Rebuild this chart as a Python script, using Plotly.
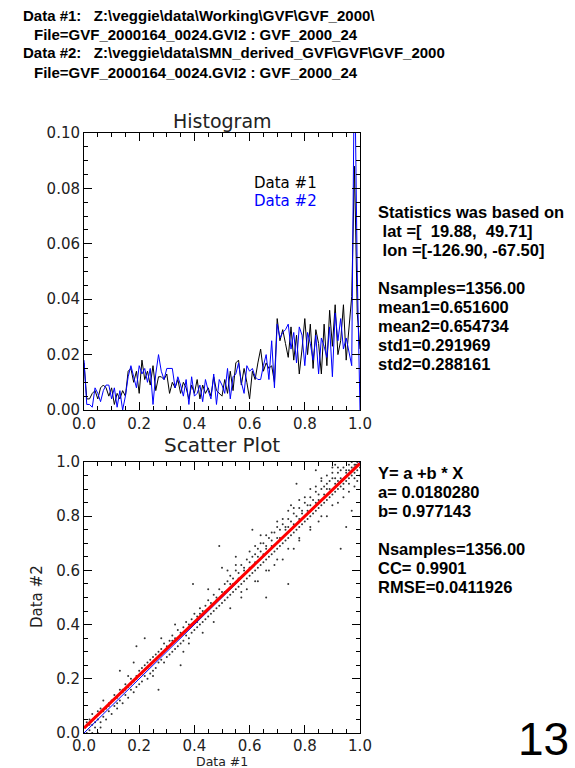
import plotly.graph_objects as go

W, H = 575, 768

# ---------------- data ----------------
bins = [round(i * 0.01, 2) for i in range(101)]

hist1 = [0.017, 0.004, 0.004, 0.006, 0.007, 0.004, 0.008, 0.009, 0.008, 0.005,
         0.008, 0.002, 0.006, 0.004, 0.007, 0.005, 0.014, 0.015, 0.010, 0.014,
         0.006, 0.018, 0.011, 0.014, 0.009, 0.016, 0.007, 0.012, 0.012, 0.011,
         0.013, 0.006, 0.010, 0.008, 0.011, 0.006, 0.010, 0.008, 0.004, 0.009,
         0.006, 0.011, 0.004, 0.009, 0.006, 0.008, 0.005, 0.012, 0.007, 0.006,
         0.005, 0.011, 0.006, 0.014, 0.007, 0.017, 0.018, 0.009, 0.015, 0.010,
         0.004, 0.014, 0.011, 0.017, 0.022, 0.014, 0.017, 0.015, 0.016, 0.010,
         0.033, 0.025, 0.029, 0.024, 0.019, 0.030, 0.018, 0.027, 0.013, 0.022,
         0.033, 0.020, 0.031, 0.015, 0.029, 0.024, 0.013, 0.031, 0.016, 0.036,
         0.023, 0.038, 0.020, 0.025, 0.038, 0.018, 0.030, 0.041, 0.088, 0.035,
         0.022]

hist2 = [0.018, 0.002, 0.002, 0.001, 0.008, 0.006, 0.003, 0.007, 0.009, 0.009,
         0.004, 0.008, 0.001, 0.007, 0.000, 0.005, 0.012, 0.016, 0.012, 0.008,
         0.016, 0.013, 0.015, 0.010, 0.015, 0.002, 0.013, 0.020, 0.014, 0.011,
         0.015, 0.015, 0.015, 0.008, 0.012, 0.009, 0.005, 0.011, 0.002, 0.012,
         0.005, 0.006, 0.009, 0.003, 0.011, 0.007, 0.004, 0.013, 0.002, 0.011,
         0.009, 0.006, 0.015, 0.004, 0.012, 0.013, 0.017, 0.010, 0.006, 0.016,
         0.014, 0.015, 0.012, 0.011, 0.011, 0.016, 0.020, 0.011, 0.025, 0.008,
         0.031, 0.026, 0.028, 0.029, 0.031, 0.022, 0.028, 0.017, 0.030, 0.027,
         0.016, 0.028, 0.024, 0.018, 0.027, 0.013, 0.026, 0.023, 0.019, 0.030,
         0.012, 0.035, 0.025, 0.033, 0.022, 0.026, 0.021, 0.016, 0.130, 0.050,
         0.000]

scatter_x = [
    0.00, 0.01, 0.01, 0.02, 0.02, 0.03, 0.03, 0.04, 0.04, 0.05, 0.05, 0.05, 0.06, 0.06, 0.07, 0.07, 0.08, 0.08, 0.09, 0.09, 0.10, 0.10, 0.06, 0.03,
    0.11, 0.11, 0.12, 0.12, 0.13, 0.13, 0.13, 0.14, 0.14, 0.15, 0.15, 0.16, 0.16, 0.17, 0.17, 0.18, 0.18, 0.19, 0.19, 0.19, 0.20, 0.20, 0.16, 0.18,
    0.21, 0.21, 0.22, 0.22, 0.22, 0.23, 0.23, 0.24, 0.24, 0.25, 0.25, 0.26, 0.26, 0.27, 0.27, 0.27, 0.28, 0.28, 0.29, 0.29, 0.30, 0.30, 0.25, 0.28,
    0.31, 0.31, 0.32, 0.32, 0.33, 0.33, 0.34, 0.34, 0.35, 0.35, 0.35, 0.36, 0.36, 0.37, 0.37, 0.38, 0.38, 0.39, 0.39, 0.40, 0.40, 0.395, 0.36, 0.38, 0.33,
    0.41, 0.41, 0.42, 0.42, 0.43, 0.43, 0.44, 0.44, 0.45, 0.45, 0.46, 0.46, 0.47, 0.47, 0.48, 0.48, 0.49, 0.49, 0.49, 0.50, 0.50, 0.50, 0.43, 0.47, 0.45,
    0.51, 0.51, 0.52, 0.52, 0.53, 0.53, 0.54, 0.54, 0.55, 0.55, 0.56, 0.56, 0.57, 0.57, 0.58, 0.58, 0.59, 0.59, 0.60, 0.60, 0.61, 0.53, 0.57, 0.55, 0.59, 0.52,
    0.61, 0.61, 0.62, 0.62, 0.63, 0.63, 0.64, 0.64, 0.65, 0.65, 0.66, 0.66, 0.66, 0.67, 0.67, 0.68, 0.68, 0.69, 0.69, 0.70, 0.70, 0.63, 0.67, 0.64, 0.69,
    0.71, 0.71, 0.72, 0.72, 0.73, 0.73, 0.74, 0.74, 0.74, 0.75, 0.75, 0.76, 0.76, 0.77, 0.77, 0.77, 0.78, 0.78, 0.79, 0.79, 0.80, 0.80, 0.72, 0.76, 0.78, 0.75,
    0.81, 0.81, 0.82, 0.82, 0.83, 0.83, 0.84, 0.84, 0.84, 0.85, 0.85, 0.86, 0.86, 0.87, 0.87, 0.88, 0.88, 0.89, 0.89, 0.90, 0.90, 0.90, 0.82, 0.85, 0.88, 0.86,
    0.91, 0.91, 0.92, 0.92, 0.93, 0.93, 0.93, 0.94, 0.94, 0.95, 0.95, 0.95, 0.96, 0.96, 0.97, 0.97, 0.97, 0.98, 0.98, 0.99, 0.99, 1.00, 1.00, 0.92, 0.94, 0.96, 0.98, 0.99, 1.00, 0.91,
]
scatter_y = [
    0.02, 0.00, 0.04, 0.01, 0.05, 0.03, 0.07, 0.02, 0.06, 0.00, 0.05, 0.08, 0.04, 0.09, 0.06, 0.12, 0.05, 0.09, 0.08, 0.11, 0.07, 0.12, 0.02, 0.00,
    0.10, 0.14, 0.09, 0.13, 0.12, 0.23, 0.16, 0.11, 0.15, 0.14, 0.18, 0.13, 0.17, 0.16, 0.20, 0.15, 0.19, 0.17, 0.21, 0.32, 0.18, 0.23, 0.21, 0.26,
    0.19, 0.24, 0.21, 0.25, 0.35, 0.20, 0.24, 0.22, 0.27, 0.23, 0.28, 0.24, 0.29, 0.16, 0.26, 0.30, 0.27, 0.31, 0.26, 0.33, 0.28, 0.32, 0.21, 0.35,
    0.29, 0.34, 0.30, 0.36, 0.31, 0.35, 0.32, 0.38, 0.33, 0.25, 0.37, 0.34, 0.39, 0.36, 0.41, 0.35, 0.40, 0.37, 0.42, 0.38, 0.44, 0.55, 0.30, 0.33, 0.40,
    0.39, 0.43, 0.40, 0.46, 0.41, 0.45, 0.42, 0.47, 0.43, 0.49, 0.44, 0.48, 0.45, 0.51, 0.46, 0.50, 0.47, 0.69, 0.53, 0.48, 0.61, 0.52, 0.37, 0.41, 0.53,
    0.49, 0.55, 0.50, 0.56, 0.51, 0.58, 0.52, 0.57, 0.53, 0.60, 0.54, 0.59, 0.55, 0.62, 0.56, 0.61, 0.57, 0.64, 0.58, 0.63, 0.75, 0.46, 0.50, 0.65, 0.53, 0.60,
    0.59, 0.65, 0.60, 0.66, 0.61, 0.68, 0.62, 0.67, 0.63, 0.70, 0.50, 0.64, 0.69, 0.65, 0.72, 0.66, 0.71, 0.67, 0.74, 0.68, 0.76, 0.56, 0.60, 0.73, 0.62,
    0.69, 0.75, 0.70, 0.77, 0.71, 0.76, 0.55, 0.72, 0.79, 0.73, 0.78, 0.74, 0.81, 0.75, 0.92, 0.80, 0.76, 0.83, 0.77, 0.82, 0.78, 0.85, 0.64, 0.68, 0.71, 0.84,
    0.79, 0.84, 0.80, 0.87, 0.81, 0.86, 0.82, 0.97, 0.89, 0.83, 0.88, 0.84, 0.90, 0.85, 0.91, 0.86, 0.92, 0.87, 0.93, 0.88, 0.98, 0.94, 0.75, 0.78, 0.80, 0.94,
    0.89, 0.94, 0.90, 0.96, 0.68, 0.91, 0.97, 0.92, 0.98, 0.76, 0.93, 0.97, 0.94, 0.99, 0.82, 0.95, 1.00, 0.96, 0.99, 0.97, 1.00, 0.98, 1.00, 0.85, 0.87, 0.89, 0.91, 0.93, 0.95, 0.99,
]
extra_x = [
    0.02, 0.04, 0.07, 0.09, 0.12, 0.14, 0.15, 0.17, 0.19, 0.21, 0.23, 0.24, 0.26, 0.28, 0.29, 0.31, 0.32, 0.34, 0.35, 0.37,
    0.39, 0.41, 0.42, 0.44, 0.46, 0.48, 0.51, 0.53, 0.54, 0.56, 0.58, 0.60, 0.62, 0.63, 0.65, 0.66, 0.68, 0.70, 0.71, 0.73,
    0.74, 0.76, 0.78, 0.79, 0.81, 0.82, 0.84, 0.85, 0.87, 0.88, 0.89, 0.91, 0.92, 0.93, 0.95, 0.96, 0.97, 0.98, 0.99, 0.985,
    0.55, 0.57, 0.60, 0.62, 0.64, 0.66, 0.68, 0.70, 0.72, 0.74, 0.76, 0.78, 0.80, 0.82, 0.84, 0.86, 0.88, 0.90, 0.92, 0.94,
    0.96, 0.98, 0.62, 0.66, 0.70, 0.74, 0.78, 0.82, 0.86, 0.90,
]
extra_y = [
    0.03, 0.04, 0.08, 0.10, 0.11, 0.16, 0.16, 0.18, 0.20, 0.22, 0.26, 0.25, 0.27, 0.29, 0.30, 0.32, 0.34, 0.35, 0.36, 0.38,
    0.40, 0.41, 0.44, 0.45, 0.47, 0.49, 0.52, 0.55, 0.55, 0.57, 0.60, 0.61, 0.63, 0.65, 0.66, 0.68, 0.69, 0.72, 0.72, 0.75,
    0.76, 0.77, 0.79, 0.81, 0.82, 0.84, 0.85, 0.86, 0.88, 0.90, 0.90, 0.92, 0.93, 0.94, 0.96, 0.97, 0.98, 0.98, 0.99, 0.99,
    0.62, 0.52, 0.67, 0.56, 0.70, 0.60, 0.74, 0.64, 0.79, 0.68, 0.83, 0.72, 0.87, 0.76, 0.91, 0.80, 0.95, 0.84, 0.98, 0.90,
    0.92, 0.94, 0.69, 0.73, 0.78, 0.82, 0.86, 0.90, 0.93, 0.96,
]

fit_a = 0.0180280
fit_b = 0.977143
line_x = [0.0, 1.0]

header_lines = [
    "Data #1:\u00a0\u00a0\u00a0Z:\\veggie\\data\\Working\\GVF\\GVF_2000\\",
    "File=GVF_2000164_0024.GVI2 : GVF_2000_24",
    "Data #2:\u00a0\u00a0\u00a0Z:\\veggie\\data\\SMN_derived_GVF\\GVF\\GVF_2000",
    "File=GVF_2000164_0024.GVI2 : GVF_2000_24",
]
stats_hist = ["Statistics was based on",
              "\u00a0lat =[\u00a0\u00a019.88,\u00a0\u00a049.71]",
              "\u00a0lon =[-126.90, -67.50]",
              "",
              "Nsamples=1356.00",
              "mean1=0.651600",
              "mean2=0.654734",
              "std1=0.291969",
              "std2=0.288161"]
stats_scatter = ["Y= a +b * X",
                 "a= 0.0180280",
                 "b= 0.977143",
                 "",
                 "Nsamples=1356.00",
                 "CC= 0.9901",
                 "RMSE=0.0411926"]

# ---------------- figure ----------------
def px(x):
    return x / W

def py(y):
    return 1 - y / H

x_dom = [px(84), px(360)]
fig = go.Figure()

fig.add_trace(go.Scatter(x=bins, y=hist1, mode="lines", line=dict(color="black", width=1),
                         xaxis="x", yaxis="y", showlegend=False))
fig.add_trace(go.Scatter(x=bins, y=hist2, mode="lines", line=dict(color="#0000ff", width=1),
                         xaxis="x", yaxis="y", showlegend=False))

fig.add_trace(go.Scatter(x=scatter_x + extra_x, y=scatter_y + extra_y, mode="markers",
                         marker=dict(color="#333333", size=2), xaxis="x2", yaxis="y2", showlegend=False))
fig.add_trace(go.Scatter(x=line_x, y=line_x, mode="lines", line=dict(color="#0000ff", width=1),
                         xaxis="x2", yaxis="y2", showlegend=False))
fig.add_trace(go.Scatter(x=line_x, y=[fit_a + fit_b * v for v in line_x], mode="lines",
                         line=dict(color="#ff0000", width=3), xaxis="x2", yaxis="y2", showlegend=False))

tick_font = dict(family="DejaVu Sans", size=15, color="#222222")
common = dict(showgrid=False, zeroline=False, showline=True, linecolor="black", linewidth=1,
              mirror="ticks", ticks="inside", ticklen=8, tickcolor="black", tickfont=tick_font,
              automargin=False)

fig.update_layout(
    width=W, height=H, margin=dict(l=0, r=0, t=0, b=0, autoexpand=False),
    paper_bgcolor="white", plot_bgcolor="white",
    xaxis=dict(domain=x_dom, anchor="y", range=[0, 1], dtick=0.2, tickformat=".1f",
               minor=dict(dtick=0.05, ticks="inside", ticklen=4, tickcolor="black"), **common),
    yaxis=dict(domain=[py(410), py(133)], anchor="x", range=[0, 0.1], dtick=0.02, tickformat=".2f",
               minor=dict(dtick=0.005, ticks="inside", ticklen=4, tickcolor="black"), **common),
    xaxis2=dict(domain=x_dom, anchor="y2", range=[0, 1], dtick=0.2, tickformat=".1f",
                ticklabelstandoff=-1,
                minor=dict(dtick=0.05, ticks="inside", ticklen=4, tickcolor="black"), **common),
    yaxis2=dict(domain=[py(733), py(462)], anchor="x2", range=[0, 1], dtick=0.2, tickformat=".1f",
                minor=dict(dtick=0.05, ticks="inside", ticklen=4, tickcolor="black"), **common),
)

ann = []
def text(x, y, s, size=13, color="black", family="Liberation Sans", bold=False, xanchor="left", angle=0):
    ann.append(dict(x=px(x), y=py(y), xref="paper", yref="paper", text=(f"<b>{s}</b>" if bold and s else s),
                    showarrow=False, xanchor=xanchor, yanchor="middle", textangle=angle,
                    font=dict(family=family, size=size, color=color)))

hx = [21, 32, 21, 32]
for i, s in enumerate(header_lines):
    text(hx[i], 15 + i * 19, s, size=15, bold=True)

for i, s in enumerate(stats_hist):
    if s:
        text(376, 212 + i * 19, s, size=16.5, bold=True)
for i, s in enumerate(stats_scatter):
    if s:
        text(376, 473 + i * 19, s, size=16.5, bold=True)

thin = "DejaVu Sans"
text(222, 121, "Histogram", size=19, family=thin, xanchor="center", color="#222222")
text(222, 445, "Scatter Plot", size=20, family=thin, xanchor="center", color="#222222")
text(222, 761, "Data #1", size=12.5, family=thin, xanchor="center", color="#222222")
text(37, 597, "Data #2", size=15, family=thin, xanchor="center", color="#222222", angle=-90)
text(252, 183, "Data #1", size=15, family=thin, color="black")
text(252, 201, "Data #2", size=15, family=thin, color="#0000ff")
text(543, 739, "13", size=46, family="Liberation Sans", xanchor="center")

fig.update_layout(annotations=ann)
fig.write_html("out.html", config={"displayModeBar": False},
               post_script="document.body.style.margin='0px';document.body.style.overflow='hidden';")
